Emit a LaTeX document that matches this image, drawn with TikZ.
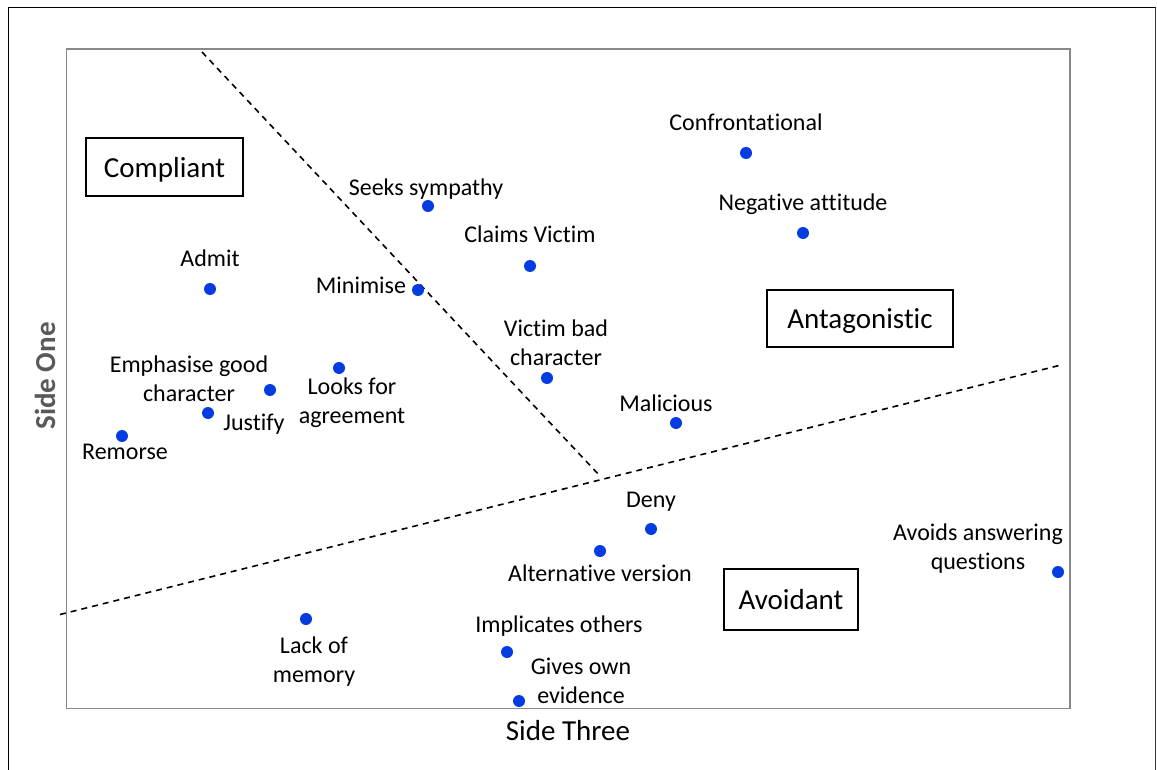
\documentclass[tikz,border=0pt]{standalone}
\usepackage{fontspec}
\setmainfont[Ligatures=NoCommon]{Carlito}
\definecolor{dotblue}{RGB}{5,60,225}
\definecolor{framegray}{RGB}{136,136,136}
\definecolor{axisgray}{RGB}{89,89,89}
\begin{document}
\begin{tikzpicture}[x=1pt,y=-1pt,
  dot/.style={circle,fill=dotblue,inner sep=0pt,minimum size=12pt},
  lbl/.style={inner sep=0pt,align=center,font=\fontsize{24}{29}\selectfont},
  catbox/.style={draw=black,line width=1.5pt,inner sep=0pt,
    font=\fontsize{29}{35}\selectfont,text height=27.3pt,text depth=7.25pt},
  divider/.style={dash pattern=on 6pt off 5pt,line width=1.6pt,black},
  axislbl/.style={inner sep=0pt,font=\fontsize{29}{35}\selectfont}]
\useasboundingbox (0,0) rectangle (1157,770);
\fill[white] (0,0) rectangle (1157,770);

% outer frame (open at the bottom edge)
\draw[line width=1.5pt,black] (8.5,775) -- (8.5,7.5) -- (1155.5,7.5);
\draw[line width=1.5pt,black!80] (1155.5,7.5) -- (1155.5,775);

% plot area
\draw[line width=1.4pt,framegray] (66.5,49) rectangle (1070,708.5);

% region dividers
\coordinate (d1a) at (202,52);
\coordinate (d1b) at (600,476);
\coordinate (d2a) at (60,614.5);
\coordinate (d2b) at (1059,365.5);
\draw[divider] (d1a) -- (d1b);
\draw[divider] (d2a) -- (d2b);

% category boxes
\node[catbox,minimum width=157pt,minimum height=58pt] (compliant) at (164.5,167) {Compliant};
\node[catbox,minimum width=186pt,minimum height=57pt] (antagonistic) at (860,318.5) {Antagonistic};
\node[catbox,minimum width=134pt,minimum height=61pt] (avoidant) at (791,599.5) {Avoidant};

% data points
\node[dot] (p-confr) at (746,153) {};
\node[dot] (p-neg) at (803,233) {};
\node[dot] (p-seeks) at (428,206) {};
\node[dot] (p-claims) at (530,266) {};
\node[dot] (p-admit) at (210,289) {};
\node[dot] (p-minimise) at (418,290) {};
\node[dot] (p-victim) at (547,378) {};
\node[dot] (p-malicious) at (676,423) {};
\node[dot] (p-emph) at (270,390) {};
\node[dot] (p-looks) at (339,368) {};
\node[dot] (p-justify) at (208,413) {};
\node[dot] (p-remorse) at (122,436) {};
\node[dot] (p-deny) at (651,529) {};
\node[dot] (p-alt) at (600,551) {};
\node[dot] (p-avoids) at (1058,572) {};
\node[dot] (p-lack) at (306,619) {};
\node[dot] (p-impl) at (507,652) {};
\node[dot] (p-gives) at (519,701) {};

% point labels (positioned by last baseline)
\node[lbl,anchor=base] (l-confr) at (746,131) {Confrontational};
\node[lbl,anchor=base] (l-neg) at (803,211) {Negative attitude};
\node[lbl,anchor=base] (l-seeks) at (426,196) {Seeks sympathy};
\node[lbl,anchor=base] (l-claims) at (530,243) {Claims Victim};
\node[lbl,anchor=base] (l-admit) at (210,267) {Admit};
\node[lbl,anchor=base] (l-minimise) at (361,294) {Minimise};
\node[lbl,anchor=base] (l-victim) at (556,365) {Victim bad\\character};
\node[lbl,anchor=base] (l-malicious) at (666,411) {Malicious};
\node[lbl,anchor=base] (l-emph) at (189,401) {Emphasise good\\character};
\node[lbl,anchor=base] (l-looks) at (352,423) {Looks for\\agreement};
\node[lbl,anchor=base] (l-justify) at (254,430) {Justify};
\node[lbl,anchor=base] (l-remorse) at (125,459) {Remorse};
\node[lbl,anchor=base] (l-deny) at (651,507) {Deny};
\node[lbl,anchor=base] (l-alt) at (600,581) {Alternative version};
\node[lbl,anchor=base] (l-avoids) at (978,569) {Avoids answering\\questions};
\node[lbl,anchor=base] (l-lack) at (314,682) {Lack of\\memory};
\node[lbl,anchor=base] (l-impl) at (559,632) {Implicates others};
\node[lbl,anchor=base] (l-gives) at (581,703) {Gives own\\evidence};

% axis titles
\node[axislbl,anchor=base] (x-title) at (568,740) {Side Three};
\node[axislbl,anchor=base,rotate=90,text=axisgray,font=\fontsize{29}{35}\selectfont\bfseries] (y-title) at (55,376) {Side One};
\end{tikzpicture}
\end{document}
